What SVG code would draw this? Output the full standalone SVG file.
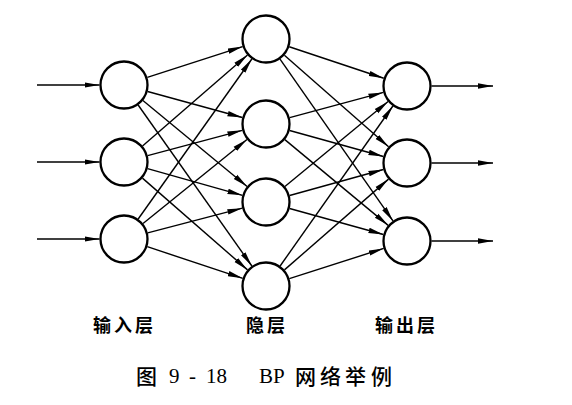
<svg xmlns="http://www.w3.org/2000/svg" width="572" height="405" viewBox="0 0 572 405">
<defs>
<marker id="ah" markerUnits="userSpaceOnUse" markerWidth="16" markerHeight="7" refX="15" refY="3.5" orient="auto">
<path d="M0,0.8 L15,3.5 L0,6.2 z" fill="#000"/>
</marker>
<style>
.n{fill:#fff;stroke:#000;stroke-width:2.3}
.c line{stroke:#000;stroke-width:1.4;marker-end:url(#ah)}
.lb{font-family:"Noto Sans CJK SC",sans-serif;font-size:18px;font-weight:bold;letter-spacing:3px}
.cap{font-family:"Noto Sans CJK SC",sans-serif;font-size:21px;font-weight:500}
.capl{font-family:"Liberation Serif",serif;font-size:21px}
</style>
</defs>
<rect width="572" height="405" fill="#fff"/>
<g id="connectors" class="c">
<line x1="37" y1="85" x2="99.5" y2="85"/>
<line x1="37" y1="162" x2="99.5" y2="162"/>
<line x1="37" y1="239" x2="99.5" y2="239"/>
<line x1="147.31" y1="77.45" x2="242.69" y2="46.55"/>
<line x1="147.62" y1="91.49" x2="242.38" y2="117.51"/>
<line x1="142.91" y1="100.58" x2="247.09" y2="186.42"/>
<line x1="138.14" y1="105.01" x2="251.86" y2="265.99"/>
<line x1="142.52" y1="145.96" x2="247.48" y2="55.04"/>
<line x1="147.67" y1="155.67" x2="242.33" y2="130.33"/>
<line x1="147.58" y1="168.64" x2="242.42" y2="195.36"/>
<line x1="142.45" y1="178.12" x2="247.55" y2="269.88"/>
<line x1="138.18" y1="219.02" x2="251.82" y2="58.98"/>
<line x1="143.04" y1="223.58" x2="246.96" y2="139.42"/>
<line x1="147.71" y1="232.82" x2="242.29" y2="208.18"/>
<line x1="147.26" y1="246.70" x2="242.74" y2="278.30"/>
<line x1="289.24" y1="46.75" x2="383.76" y2="78.25"/>
<line x1="284.40" y1="55.18" x2="388.60" y2="146.82"/>
<line x1="280.02" y1="59.09" x2="392.98" y2="220.91"/>
<line x1="289.66" y1="117.62" x2="383.34" y2="92.38"/>
<line x1="289.61" y1="130.53" x2="383.39" y2="156.47"/>
<line x1="284.85" y1="139.65" x2="388.15" y2="225.35"/>
<line x1="284.92" y1="186.43" x2="388.08" y2="101.57"/>
<line x1="289.61" y1="195.47" x2="383.39" y2="169.53"/>
<line x1="289.61" y1="208.53" x2="383.39" y2="234.47"/>
<line x1="280.12" y1="265.98" x2="392.88" y2="106.02"/>
<line x1="284.46" y1="269.89" x2="388.54" y2="179.11"/>
<line x1="289.34" y1="278.55" x2="383.66" y2="248.45"/>
<line x1="431.5" y1="86" x2="493" y2="86"/>
<line x1="431.5" y1="163" x2="493" y2="163"/>
<line x1="431.5" y1="241" x2="493" y2="241"/>
</g>
<g id="in1"><circle class="n" cx="124" cy="85" r="23.5"/></g>
<g id="in2"><circle class="n" cx="124" cy="162" r="23.5"/></g>
<g id="in3"><circle class="n" cx="124" cy="239" r="23.5"/></g>
<g id="h1"><circle class="n" cx="266" cy="39" r="23.5"/></g>
<g id="h2"><circle class="n" cx="266" cy="124" r="23.5"/></g>
<g id="h3"><circle class="n" cx="266" cy="202" r="23.5"/></g>
<g id="h4"><circle class="n" cx="266" cy="286" r="23.5"/></g>
<g id="o1"><circle class="n" cx="407" cy="86" r="23.5"/></g>
<g id="o2"><circle class="n" cx="407" cy="163" r="23.5"/></g>
<g id="o3"><circle class="n" cx="407" cy="241" r="23.5"/></g>
<g id="labels">
<text class="lb" x="93" y="332">输入层</text>
<text class="lb" x="246" y="332">隐层</text>
<text class="lb" x="375" y="332">输出层</text>
</g>
<g id="caption">
<text class="cap" x="136" y="384">图</text>
<text class="capl" x="169" y="383">9</text>
<text class="capl" x="189" y="383">-</text>
<text class="capl" x="206" y="383">18</text>
<text class="capl" x="259" y="383">BP</text>
<text class="cap" x="295" y="384">网</text>
<text class="cap" x="320" y="384">络</text>
<text class="cap" x="345" y="384">举</text>
<text class="cap" x="371" y="384">例</text>
</g>
</svg>
